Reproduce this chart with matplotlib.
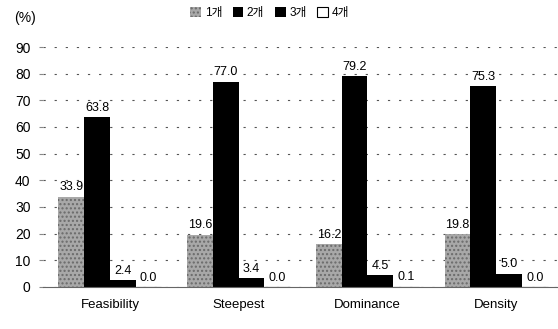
import numpy as np
import matplotlib.pyplot as plt

plt.rcParams['font.family'] = ['Liberation Sans', 'Noto Sans CJK KR']

# --- data ---
categories = ["Feasibility", "Steepest", "Dominance", "Density"]
series_names = ["1개", "2개", "3개", "4개"]
v1 = [33.9, 19.6, 16.2, 19.8]
v2 = [63.8, 77.0, 79.2, 75.3]
v3 = [2.4, 3.4, 4.5, 5.0]
v4 = [0.0, 0.0, 0.1, 0.0]
labels1 = ["33.9", "19.6", "16.2", "19.8"]
labels2 = ["63.8", "77.0", "79.2", "75.3"]
labels3 = ["2.4", "3.4", "4.5", "5.0"]
labels4 = ["0.0", "0.0", "0.1", "0.0"]

fig = plt.figure(figsize=(5.58, 3.29), dpi=100)
ax = fig.add_axes([0.077, 0.128, 0.923, 0.729])

x = np.arange(len(categories))
w = 0.2
styles = [
    dict(facecolor="#a8a8a8", edgecolor="#6a6a6a", hatch="....", linewidth=0),
    dict(facecolor="black", edgecolor="black", linewidth=0),
    dict(facecolor="black", edgecolor="black", linewidth=0),
    dict(facecolor="white", edgecolor="black", linewidth=0.8),
]
all_vals = [v1, v2, v3, v4]
all_labels = [labels1, labels2, labels3, labels4]
for i, (vals, labs, st) in enumerate(zip(all_vals, all_labels, styles)):
    pos = x + (i - 1.5) * w
    bars = ax.bar(pos, vals, w, label=series_names[i], zorder=2, **st)
    for b, lab in zip(bars, labs):
        ax.text(b.get_x() + b.get_width() / 2, b.get_height() + 1.2, lab,
                ha="center", va="bottom", fontsize=9, zorder=3)

ax.set_xlim(-0.52, 3.48)
ax.set_ylim(0, 90)
ax.set_yticks(range(0, 91, 10))
ax.set_xticks(x)
ax.set_xticklabels(categories, fontsize=9.5)
ax.tick_params(axis="x", length=0, pad=9)
ax.tick_params(axis="y", length=3, labelsize=10, color="#888888", pad=6)
ax.yaxis.grid(True, linestyle=(0, (2, 8)), color="#555555", linewidth=0.8)
ax.set_axisbelow(True)
for s in ["top", "right", "left"]:
    ax.spines[s].set_visible(False)
ax.spines["bottom"].set_color("#666666")

fig.text(0.025, 0.945, "(%)", fontsize=10, ha="left", va="center")
ax.legend(loc="center", bbox_to_anchor=(0.44, 1.14), ncol=4, frameon=False,
          fontsize=8.5, handlelength=0.9, handleheight=0.9, handletextpad=0.3,
          columnspacing=0.9)

fig.savefig("out.png", dpi=100)
